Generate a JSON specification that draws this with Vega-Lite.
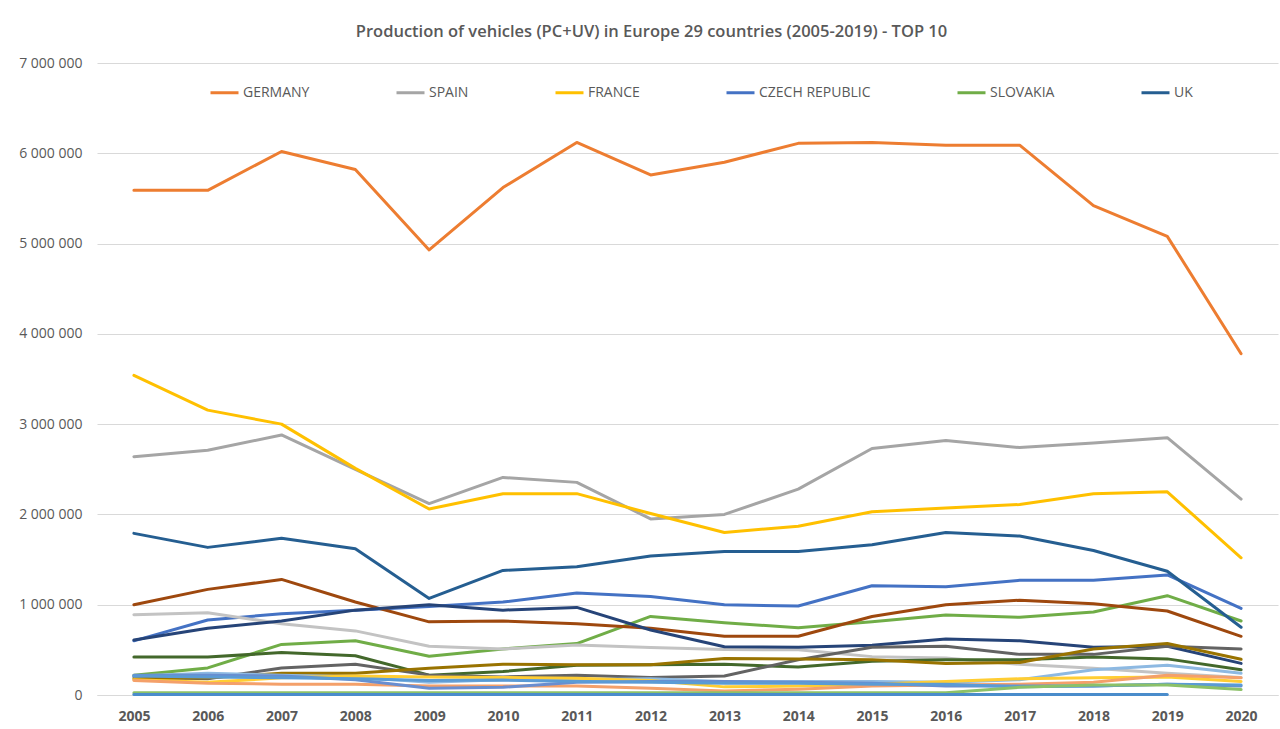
{
  "$schema": "https://vega.github.io/schema/vega-lite/v6.json",
  "width": 1181,
  "height": 632,
  "autosize": {"type": "none"},
  "padding": {"left": 97, "top": 63, "right": 2, "bottom": 34},
  "background": "white",
  "config": {
    "view": {"stroke": null},
    "locale": {"number": {"decimal": ",", "thousands": " ", "grouping": [3], "currency": ["", ""]}}
  },
  "title": {
    "text": "Production of vehicles (PC+UV) in Europe 29 countries (2005-2019) - TOP 10",
    "font": "Open Sans",
    "fontSize": 16.5,
    "fontWeight": 600,
    "color": "#595959",
    "offset": 16,
    "dx": -36
  },
  "datasets": {
    "prod": [
      {"c":"GERMANY","y":"2005","v":5590000},{"c":"GERMANY","y":"2006","v":5590000},{"c":"GERMANY","y":"2007","v":6020000},{"c":"GERMANY","y":"2008","v":5820000},{"c":"GERMANY","y":"2009","v":4930000},{"c":"GERMANY","y":"2010","v":5620000},{"c":"GERMANY","y":"2011","v":6120000},{"c":"GERMANY","y":"2012","v":5760000},{"c":"GERMANY","y":"2013","v":5900000},{"c":"GERMANY","y":"2014","v":6110000},{"c":"GERMANY","y":"2015","v":6120000},{"c":"GERMANY","y":"2016","v":6090000},{"c":"GERMANY","y":"2017","v":6090000},{"c":"GERMANY","y":"2018","v":5420000},{"c":"GERMANY","y":"2019","v":5080000},{"c":"GERMANY","y":"2020","v":3780000},
      {"c":"SPAIN","y":"2005","v":2640000},{"c":"SPAIN","y":"2006","v":2710000},{"c":"SPAIN","y":"2007","v":2880000},{"c":"SPAIN","y":"2008","v":2500000},{"c":"SPAIN","y":"2009","v":2120000},{"c":"SPAIN","y":"2010","v":2410000},{"c":"SPAIN","y":"2011","v":2355000},{"c":"SPAIN","y":"2012","v":1950000},{"c":"SPAIN","y":"2013","v":2000000},{"c":"SPAIN","y":"2014","v":2280000},{"c":"SPAIN","y":"2015","v":2730000},{"c":"SPAIN","y":"2016","v":2820000},{"c":"SPAIN","y":"2017","v":2740000},{"c":"SPAIN","y":"2018","v":2790000},{"c":"SPAIN","y":"2019","v":2850000},{"c":"SPAIN","y":"2020","v":2170000},
      {"c":"FRANCE","y":"2005","v":3540000},{"c":"FRANCE","y":"2006","v":3155000},{"c":"FRANCE","y":"2007","v":3000000},{"c":"FRANCE","y":"2008","v":2510000},{"c":"FRANCE","y":"2009","v":2060000},{"c":"FRANCE","y":"2010","v":2230000},{"c":"FRANCE","y":"2011","v":2230000},{"c":"FRANCE","y":"2012","v":2010000},{"c":"FRANCE","y":"2013","v":1800000},{"c":"FRANCE","y":"2014","v":1870000},{"c":"FRANCE","y":"2015","v":2030000},{"c":"FRANCE","y":"2016","v":2070000},{"c":"FRANCE","y":"2017","v":2110000},{"c":"FRANCE","y":"2018","v":2230000},{"c":"FRANCE","y":"2019","v":2250000},{"c":"FRANCE","y":"2020","v":1520000},
      {"c":"CZECH REPUBLIC","y":"2005","v":600000},{"c":"CZECH REPUBLIC","y":"2006","v":830000},{"c":"CZECH REPUBLIC","y":"2007","v":900000},{"c":"CZECH REPUBLIC","y":"2008","v":940000},{"c":"CZECH REPUBLIC","y":"2009","v":980000},{"c":"CZECH REPUBLIC","y":"2010","v":1030000},{"c":"CZECH REPUBLIC","y":"2011","v":1130000},{"c":"CZECH REPUBLIC","y":"2012","v":1090000},{"c":"CZECH REPUBLIC","y":"2013","v":1000000},{"c":"CZECH REPUBLIC","y":"2014","v":985000},{"c":"CZECH REPUBLIC","y":"2015","v":1210000},{"c":"CZECH REPUBLIC","y":"2016","v":1200000},{"c":"CZECH REPUBLIC","y":"2017","v":1270000},{"c":"CZECH REPUBLIC","y":"2018","v":1270000},{"c":"CZECH REPUBLIC","y":"2019","v":1330000},{"c":"CZECH REPUBLIC","y":"2020","v":960000},
      {"c":"SLOVAKIA","y":"2005","v":220000},{"c":"SLOVAKIA","y":"2006","v":300000},{"c":"SLOVAKIA","y":"2007","v":560000},{"c":"SLOVAKIA","y":"2008","v":600000},{"c":"SLOVAKIA","y":"2009","v":430000},{"c":"SLOVAKIA","y":"2010","v":510000},{"c":"SLOVAKIA","y":"2011","v":570000},{"c":"SLOVAKIA","y":"2012","v":870000},{"c":"SLOVAKIA","y":"2013","v":800000},{"c":"SLOVAKIA","y":"2014","v":745000},{"c":"SLOVAKIA","y":"2015","v":810000},{"c":"SLOVAKIA","y":"2016","v":885000},{"c":"SLOVAKIA","y":"2017","v":860000},{"c":"SLOVAKIA","y":"2018","v":920000},{"c":"SLOVAKIA","y":"2019","v":1100000},{"c":"SLOVAKIA","y":"2020","v":820000},
      {"c":"UK","y":"2005","v":1790000},{"c":"UK","y":"2006","v":1635000},{"c":"UK","y":"2007","v":1735000},{"c":"UK","y":"2008","v":1620000},{"c":"UK","y":"2009","v":1070000},{"c":"UK","y":"2010","v":1380000},{"c":"UK","y":"2011","v":1420000},{"c":"UK","y":"2012","v":1540000},{"c":"UK","y":"2013","v":1590000},{"c":"UK","y":"2014","v":1590000},{"c":"UK","y":"2015","v":1665000},{"c":"UK","y":"2016","v":1800000},{"c":"UK","y":"2017","v":1760000},{"c":"UK","y":"2018","v":1600000},{"c":"UK","y":"2019","v":1370000},{"c":"UK","y":"2020","v":750000},
      {"c":"S7","y":"2005","v":1000000},{"c":"S7","y":"2006","v":1170000},{"c":"S7","y":"2007","v":1280000},{"c":"S7","y":"2008","v":1030000},{"c":"S7","y":"2009","v":810000},{"c":"S7","y":"2010","v":820000},{"c":"S7","y":"2011","v":790000},{"c":"S7","y":"2012","v":740000},{"c":"S7","y":"2013","v":650000},{"c":"S7","y":"2014","v":650000},{"c":"S7","y":"2015","v":870000},{"c":"S7","y":"2016","v":1000000},{"c":"S7","y":"2017","v":1050000},{"c":"S7","y":"2018","v":1010000},{"c":"S7","y":"2019","v":930000},{"c":"S7","y":"2020","v":650000},
      {"c":"S8","y":"2005","v":890000},{"c":"S8","y":"2006","v":910000},{"c":"S8","y":"2007","v":790000},{"c":"S8","y":"2008","v":710000},{"c":"S8","y":"2009","v":540000},{"c":"S8","y":"2010","v":510000},{"c":"S8","y":"2011","v":555000},{"c":"S8","y":"2012","v":525000},{"c":"S8","y":"2013","v":505000},{"c":"S8","y":"2014","v":500000},{"c":"S8","y":"2015","v":425000},{"c":"S8","y":"2016","v":410000},{"c":"S8","y":"2017","v":340000},{"c":"S8","y":"2018","v":295000},{"c":"S8","y":"2019","v":240000},{"c":"S8","y":"2020","v":195000},
      {"c":"S9","y":"2005","v":610000},{"c":"S9","y":"2006","v":740000},{"c":"S9","y":"2007","v":820000},{"c":"S9","y":"2008","v":940000},{"c":"S9","y":"2009","v":1000000},{"c":"S9","y":"2010","v":940000},{"c":"S9","y":"2011","v":970000},{"c":"S9","y":"2012","v":720000},{"c":"S9","y":"2013","v":535000},{"c":"S9","y":"2014","v":530000},{"c":"S9","y":"2015","v":550000},{"c":"S9","y":"2016","v":620000},{"c":"S9","y":"2017","v":600000},{"c":"S9","y":"2018","v":530000},{"c":"S9","y":"2019","v":540000},{"c":"S9","y":"2020","v":350000},
      {"c":"S10","y":"2005","v":420000},{"c":"S10","y":"2006","v":420000},{"c":"S10","y":"2007","v":470000},{"c":"S10","y":"2008","v":435000},{"c":"S10","y":"2009","v":220000},{"c":"S10","y":"2010","v":260000},{"c":"S10","y":"2011","v":330000},{"c":"S10","y":"2012","v":335000},{"c":"S10","y":"2013","v":340000},{"c":"S10","y":"2014","v":310000},{"c":"S10","y":"2015","v":375000},{"c":"S10","y":"2016","v":390000},{"c":"S10","y":"2017","v":390000},{"c":"S10","y":"2018","v":420000},{"c":"S10","y":"2019","v":400000},{"c":"S10","y":"2020","v":280000},
      {"c":"S11","y":"2005","v":200000},{"c":"S11","y":"2006","v":180000},{"c":"S11","y":"2007","v":300000},{"c":"S11","y":"2008","v":340000},{"c":"S11","y":"2009","v":220000},{"c":"S11","y":"2010","v":200000},{"c":"S11","y":"2011","v":220000},{"c":"S11","y":"2012","v":195000},{"c":"S11","y":"2013","v":210000},{"c":"S11","y":"2014","v":390000},{"c":"S11","y":"2015","v":530000},{"c":"S11","y":"2016","v":540000},{"c":"S11","y":"2017","v":450000},{"c":"S11","y":"2018","v":450000},{"c":"S11","y":"2019","v":540000},{"c":"S11","y":"2020","v":510000},
      {"c":"S12","y":"2005","v":180000},{"c":"S12","y":"2006","v":190000},{"c":"S12","y":"2007","v":240000},{"c":"S12","y":"2008","v":240000},{"c":"S12","y":"2009","v":295000},{"c":"S12","y":"2010","v":340000},{"c":"S12","y":"2011","v":335000},{"c":"S12","y":"2012","v":335000},{"c":"S12","y":"2013","v":405000},{"c":"S12","y":"2014","v":400000},{"c":"S12","y":"2015","v":390000},{"c":"S12","y":"2016","v":350000},{"c":"S12","y":"2017","v":360000},{"c":"S12","y":"2018","v":510000},{"c":"S12","y":"2019","v":570000},{"c":"S12","y":"2020","v":395000},
      {"c":"S13","y":"2005","v":210000},{"c":"S13","y":"2006","v":240000},{"c":"S13","y":"2007","v":220000},{"c":"S13","y":"2008","v":200000},{"c":"S13","y":"2009","v":140000},{"c":"S13","y":"2010","v":170000},{"c":"S13","y":"2011","v":170000},{"c":"S13","y":"2012","v":180000},{"c":"S13","y":"2013","v":150000},{"c":"S13","y":"2014","v":150000},{"c":"S13","y":"2015","v":150000},{"c":"S13","y":"2016","v":140000},{"c":"S13","y":"2017","v":170000},{"c":"S13","y":"2018","v":280000},{"c":"S13","y":"2019","v":330000},{"c":"S13","y":"2020","v":240000},
      {"c":"S14","y":"2005","v":170000},{"c":"S14","y":"2006","v":140000},{"c":"S14","y":"2007","v":190000},{"c":"S14","y":"2008","v":210000},{"c":"S14","y":"2009","v":200000},{"c":"S14","y":"2010","v":195000},{"c":"S14","y":"2011","v":185000},{"c":"S14","y":"2012","v":160000},{"c":"S14","y":"2013","v":90000},{"c":"S14","y":"2014","v":100000},{"c":"S14","y":"2015","v":120000},{"c":"S14","y":"2016","v":150000},{"c":"S14","y":"2017","v":180000},{"c":"S14","y":"2018","v":190000},{"c":"S14","y":"2019","v":200000},{"c":"S14","y":"2020","v":150000},
      {"c":"S15","y":"2005","v":160000},{"c":"S15","y":"2006","v":130000},{"c":"S15","y":"2007","v":120000},{"c":"S15","y":"2008","v":120000},{"c":"S15","y":"2009","v":100000},{"c":"S15","y":"2010","v":100000},{"c":"S15","y":"2011","v":100000},{"c":"S15","y":"2012","v":75000},{"c":"S15","y":"2013","v":45000},{"c":"S15","y":"2014","v":65000},{"c":"S15","y":"2015","v":100000},{"c":"S15","y":"2016","v":110000},{"c":"S15","y":"2017","v":120000},{"c":"S15","y":"2018","v":140000},{"c":"S15","y":"2019","v":220000},{"c":"S15","y":"2020","v":190000},
      {"c":"S16","y":"2005","v":220000},{"c":"S16","y":"2006","v":220000},{"c":"S16","y":"2007","v":210000},{"c":"S16","y":"2008","v":170000},{"c":"S16","y":"2009","v":75000},{"c":"S16","y":"2010","v":85000},{"c":"S16","y":"2011","v":140000},{"c":"S16","y":"2012","v":150000},{"c":"S16","y":"2013","v":150000},{"c":"S16","y":"2014","v":140000},{"c":"S16","y":"2015","v":130000},{"c":"S16","y":"2016","v":100000},{"c":"S16","y":"2017","v":100000},{"c":"S16","y":"2018","v":100000},{"c":"S16","y":"2019","v":120000},{"c":"S16","y":"2020","v":100000},
      {"c":"S17","y":"2005","v":210000},{"c":"S17","y":"2006","v":200000},{"c":"S17","y":"2007","v":190000},{"c":"S17","y":"2008","v":180000},{"c":"S17","y":"2009","v":160000},{"c":"S17","y":"2010","v":165000},{"c":"S17","y":"2011","v":150000},{"c":"S17","y":"2012","v":140000},{"c":"S17","y":"2013","v":130000},{"c":"S17","y":"2014","v":130000},{"c":"S17","y":"2015","v":120000},{"c":"S17","y":"2016","v":120000},{"c":"S17","y":"2017","v":90000},{"c":"S17","y":"2018","v":100000},{"c":"S17","y":"2019","v":120000},{"c":"S17","y":"2020","v":110000},
      {"c":"S18","y":"2005","v":25000},{"c":"S18","y":"2006","v":25000},{"c":"S18","y":"2007","v":25000},{"c":"S18","y":"2008","v":25000},{"c":"S18","y":"2009","v":25000},{"c":"S18","y":"2010","v":25000},{"c":"S18","y":"2011","v":25000},{"c":"S18","y":"2012","v":25000},{"c":"S18","y":"2013","v":25000},{"c":"S18","y":"2014","v":25000},{"c":"S18","y":"2015","v":25000},{"c":"S18","y":"2016","v":25000},{"c":"S18","y":"2017","v":85000},{"c":"S18","y":"2018","v":110000},{"c":"S18","y":"2019","v":110000},{"c":"S18","y":"2020","v":60000},
      {"c":"S19","y":"2005","v":5000},{"c":"S19","y":"2006","v":5000},{"c":"S19","y":"2007","v":5000},{"c":"S19","y":"2008","v":5000},{"c":"S19","y":"2009","v":5000},{"c":"S19","y":"2010","v":5000},{"c":"S19","y":"2011","v":5000},{"c":"S19","y":"2012","v":5000},{"c":"S19","y":"2013","v":5000},{"c":"S19","y":"2014","v":5000},{"c":"S19","y":"2015","v":5000},{"c":"S19","y":"2016","v":5000},{"c":"S19","y":"2017","v":5000},{"c":"S19","y":"2018","v":5000},{"c":"S19","y":"2019","v":5000}
    ]
  },
  "data": {"name": "prod"},
  "mark": {"type": "line", "strokeWidth": 3, "strokeJoin": "round", "strokeCap": "round"},
  "encoding": {
    "x": {
      "field": "y", "type": "ordinal",
      "scale": {"type": "point", "padding": 0.5},
      "axis": {
        "title": null, "labelAngle": 0, "ticks": false, "grid": false,
        "domain": true, "domainColor": "#D9D9D9", "domainWidth": 1,
        "labelFont": "Open Sans", "labelFontSize": 14, "labelFontWeight": "bold",
        "labelColor": "#595959", "labelPadding": 14
      }
    },
    "y": {
      "field": "v", "type": "quantitative",
      "scale": {"domain": [0, 7000000], "nice": false},
      "axis": {
        "title": null, "values": [0, 1000000, 2000000, 3000000, 4000000, 5000000, 6000000, 7000000],
        "format": ",d", "ticks": false, "domain": false,
        "grid": true, "gridColor": "#D9D9D9", "gridWidth": 1,
        "labelFont": "Open Sans", "labelFontSize": 14, "labelColor": "#595959", "labelPadding": 15
      }
    },
    "color": {
      "field": "c", "type": "nominal",
      "scale": {
        "domain": ["GERMANY", "SPAIN", "FRANCE", "CZECH REPUBLIC", "SLOVAKIA", "UK", "S7", "S8", "S9", "S10", "S11", "S12", "S13", "S14", "S15", "S16", "S17", "S18", "S19"],
        "range": ["#ED7D31", "#A5A5A5", "#FFC000", "#4472C4", "#70AD47", "#255E91", "#9E480E", "#C3C3C3", "#264478", "#43682B", "#636363", "#997300", "#8DB9E2", "#FFCD33", "#F4A06A", "#698ED0", "#5B9BD5", "#8CC168", "#4A8CCB"]
      },
      "legend": {
        "values": ["GERMANY", "SPAIN", "FRANCE", "CZECH REPUBLIC", "SLOVAKIA", "UK"],
        "title": null, "orient": "none", "legendX": 112, "legendY": 14,
        "direction": "horizontal", "columns": 6, "columnPadding": 80,
        "symbolType": "stroke", "symbolSize": 784, "symbolStrokeWidth": 3,
        "labelFont": "Open Sans", "labelFontSize": 14, "labelColor": "#595959",
        "labelOffset": 3, "labelLimit": 300
      }
    }
  }
}
